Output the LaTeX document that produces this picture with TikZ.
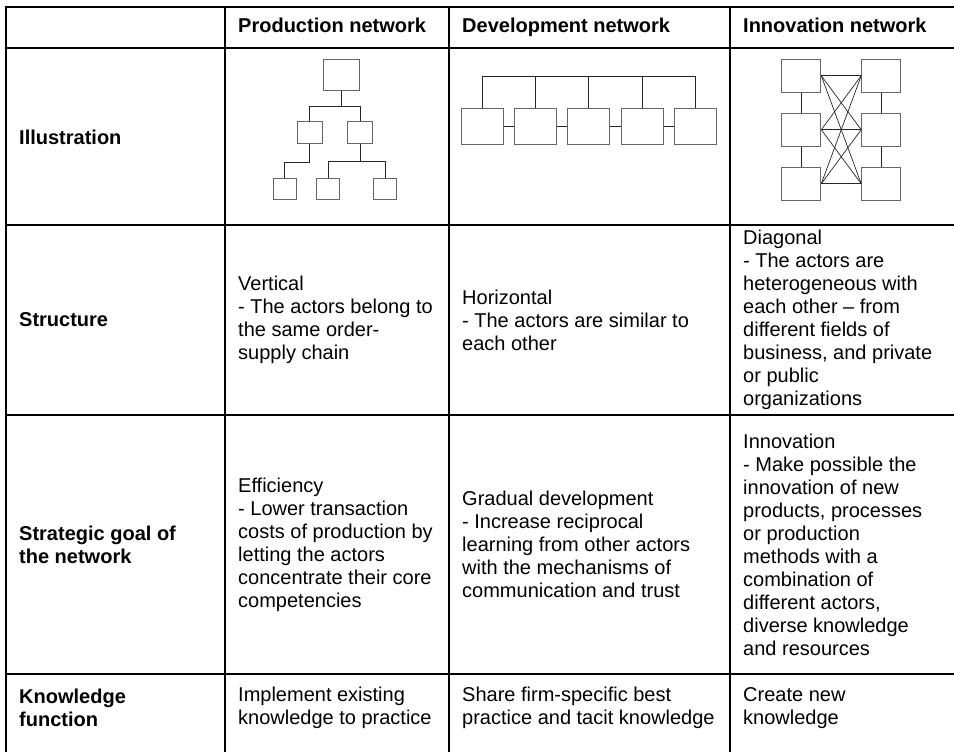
\documentclass[tikz,border=0pt]{standalone}
\usepackage{fontspec}
\setmainfont{Liberation Sans}
\usepackage{tikz}

\tikzset{
  rule/.style={line width=2pt},
  link/.style={line width=0.9pt, black!85},
  actor/.style={draw=black!60, line width=1pt, fill=white, inner sep=0pt},
  head/.style={font=\fontsize{20}{23}\selectfont\bfseries, inner sep=0pt, anchor=base west},
  lbl/.style={font=\fontsize{20}{23}\selectfont\bfseries, inner sep=0pt, anchor=west, align=left},
  cell/.style={font=\fontsize{20}{23}\selectfont, inner sep=0pt, anchor=west, align=left}
}

\begin{document}
\begin{tikzpicture}[x=1pt,y=-1pt]
  \useasboundingbox (0,0) rectangle (954,752);
  % Define the grid
  \foreach \y in {7,48,225,415,674} \draw[rule] (5,\y) -- (954,\y);
  \foreach \x in {6,225,449,730} \draw[rule] (\x,6) -- (\x,752);

  % Column heads
  \node[head] (hprod) at (238,33) {Production network};
  \node[head] (hdev) at (462,33) {Development network};
  \node[head] (hinno) at (743,33) {Innovation network};

  % Row labels
  \node[lbl] (lill) at (19,137) {Illustration};
  \node[lbl] (lstr) at (19,320) {Structure};
  \node[lbl] (lgoal) at (19,544.5) {Strategic goal of\\the network};
  \node[lbl] (lknow) at (19,708) {Knowledge\\function};

  % Production network: a tree
  \node[actor, minimum width=36, minimum height=31] (p0) at (341,75.5) {};
  \node[actor, minimum width=25, minimum height=22] (p1) at (309.7,132.5) {};
  \node[actor, minimum width=25, minimum height=22] (p2) at (360,132.5) {};
  \foreach \n/\x in {p3/284.7,p4/328.3,p5/385}
    \node[actor, minimum width=23, minimum height=21] (\n) at (\x,188.8) {};
  \coordinate (pbus) at (341,107);
  \draw[link] (p0.south) -- (pbus);
  \draw[link] (p1.north) -- ++(0,-14.5) -| (p2.north);
  \draw[link] (p1.south) -- ++(0,18.4) -| (p3.north);
  \draw[link] (p2.south) -- ++(0,18.4);
  \draw[link] (p4.north) -- ++(0,-16.6) -| (p5.north);

  % Development network: a row of equals
  \foreach \n/\x in {1/482,2/535.5,3/588.8,4/642.2,5/695.2}
    \node[actor, minimum width=42, minimum height=35] (d\n) at (\x,126.5) {};
  \draw[link] (d1.north) -- ++(0,-31.7) coordinate (dbus) -| (d5.north);
  \foreach \n in {2,3,4} \draw[link] (d\n.north) -- (d\n.north |- dbus);
  \foreach \a/\b in {1/2,2/3,3/4,4/5} \draw[link] (d\a.east) -- (d\b.west);

  % Innovation network: everybody with everybody
  \foreach \n/\y in {1/75.8,2/129.7,3/183.7}{
    \node[actor, minimum width=39, minimum height=33] (l\n) at (801.3,\y) {};
    \node[actor, minimum width=39, minimum height=33] (r\n) at (881.2,\y) {};}
  \foreach \a/\b in {1/2,2/3}{
    \draw[link] (l\a.south) -- (l\b.north);
    \draw[link] (r\a.south) -- (r\b.north);}
  \foreach \i in {1,2,3} \foreach \j in {1,2,3}
    \draw[link, line width=0.7pt] (l\i.east) -- (r\j.west);

  % Structure
  \node[cell] (sprod) at (238,320) {Vertical\\- The actors belong to\\the same order-\\supply chain};
  \node[cell] (sdev) at (462,320) {Horizontal\\- The actors are similar to\\each other};
  \node[cell] (sinno) at (743,320) {Diagonal\\- The actors are\\heterogeneous with\\each other -- from\\different fields of\\business, and private\\or public\\organizations};

  % Strategic goal
  \node[cell] (gprod) at (238,544.5) {Efficiency\\- Lower transaction\\costs of production by\\letting the actors\\concentrate their core\\competencies};
  \node[cell] (gdev) at (462,544.5) {Gradual development\\- Increase reciprocal\\learning from other actors\\with the mechanisms of\\communication and trust};
  \node[cell] (ginno) at (743,544.5) {Innovation\\- Make possible the\\innovation of new\\products, processes\\or production\\methods with a\\combination of\\different actors,\\diverse knowledge\\and resources};

  % Knowledge function
  \node[cell] (kprod) at (238,708) {Implement existing\\knowledge to practice};
  \node[cell] (kdev) at (462,708) {Share firm-specific best\\practice and tacit knowledge};
  \node[cell] (kinno) at (743,708) {Create new\\knowledge};
\end{tikzpicture}
\end{document}
